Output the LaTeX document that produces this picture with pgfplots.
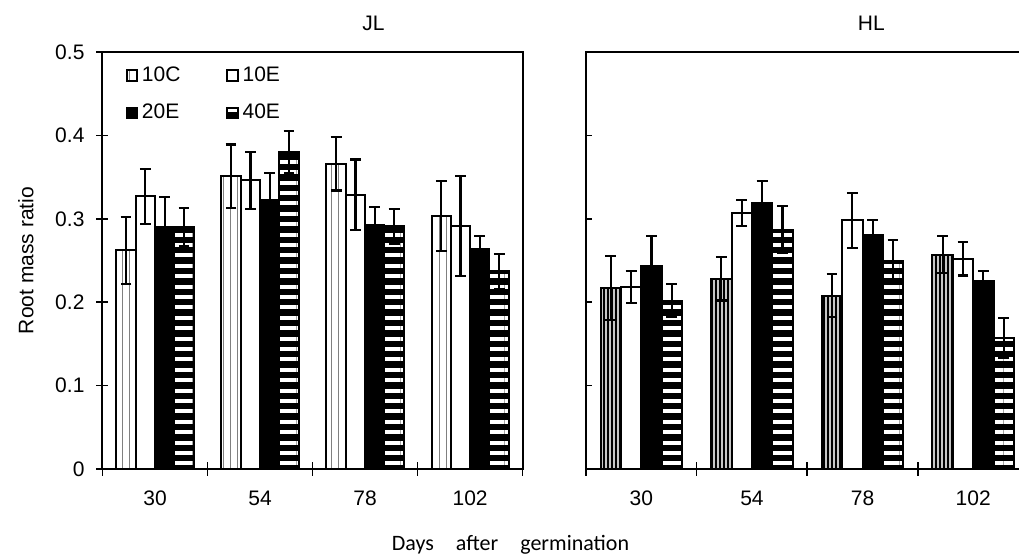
\documentclass[border=0pt]{standalone}
\usepackage{fontspec}
\setmainfont{Liberation Sans}
\newfontfamily\carlito{Carlito}
\usepackage{pgfplots}
\usepackage{pgfplotstable}
\pgfplotsset{compat=1.18}
\usetikzlibrary{patterns.meta}

% x = group (0:30, 1:54, 2:78, 3:102); value and error for each treatment
\pgfplotstableread{
x  c10   c10e  e10   e10e  e20   e20e  e40   e40e
0  0.262 0.040 0.327 0.033 0.290 0.036 0.290 0.023
1  0.351 0.038 0.346 0.034 0.323 0.032 0.380 0.025
2  0.366 0.032 0.329 0.042 0.292 0.022 0.291 0.021
3  0.303 0.042 0.291 0.060 0.264 0.015 0.237 0.021
}\jl
\pgfplotstableread{
x  c10   c10e  e10   e10e  e20   e20e  e40   e40e
0  0.217 0.038 0.218 0.019 0.243 0.036 0.202 0.020
1  0.228 0.026 0.307 0.016 0.319 0.026 0.287 0.028
2  0.208 0.026 0.298 0.033 0.281 0.018 0.249 0.026
3  0.257 0.022 0.252 0.020 0.226 0.011 0.157 0.024
}\hl

\pgfplotsset{
  rmr/.style={
    ybar, bar shift=0pt, bar width=0.184,
    scale only axis, height=208.5pt,
    ymin=0, ymax=0.5, xmin=-0.5, xmax=3.5,
    ytick={0,0.1,...,0.5},
    xtick={0,1,2,3}, xticklabels={30,54,78,102},
    minor xtick={-0.5,0.5,1.5,2.5,3.5},
    major x tick style={draw=none},
    tick pos=left,
    major tick length=6pt, minor tick length=7pt,
    every tick/.style={black, line width=0.8pt},
    axis line style={line width=1pt},
    /pgf/number format/assume math mode=true,
    /pgf/number format/fixed,
    tick label style={font=\fontsize{10.5}{12}\selectfont},
    label style={font=\fontsize{10.5}{12}\selectfont},
    title style={font=\fontsize{10.5}{12}\selectfont, at={(0.645,1)}, anchor=south, yshift=1pt},
    error bars/y dir=both, error bars/y explicit,
    error bars/error bar style={line width=1.1pt, black},
    error bars/error mark options={line width=1.1pt, black, mark size=2.7pt, rotate=90},
    legend image code/.code={\draw[#1, line width=0.9pt] (0pt,-2.6pt) rectangle (5.2pt,2.6pt);},
  },
  sJLc/.style={draw=black, line width=1pt, fill=white,
    postaction={pattern={Lines[angle=90,distance=3.6pt,line width=0.7pt]}, pattern color=gray}},
  sHLc/.style={draw=black, line width=1pt, fill=gray!45,
    postaction={pattern={Lines[angle=90,distance=2pt,line width=0.55pt]}, pattern color=black}},
  sE10/.style={draw=black, line width=1pt, fill=white},
  sE20/.style={draw=black, line width=1pt, fill=black},
  sE40/.style={draw=black, line width=1pt, fill=black,
    postaction={pattern={Lines[angle=0,distance=5.2pt,line width=2pt]}, pattern color=white}},
}

\begin{document}
\begin{tikzpicture}
\begin{axis}[rmr, name=L, width=210.1pt,
  tick align=center,
  title={JL}, ylabel={Root mass ratio},
  ylabel style={xshift=0pt, yshift=4pt},
  yticklabel style={xshift=-2.5pt},
  xticklabel style={yshift=-4.5pt},
  legend style={at={(0.04,0.985)}, anchor=north west, draw=none, fill=none,
    font=\fontsize{10.5}{12}\selectfont, row sep=6pt},
  legend columns=2,
  legend cell align=left,
  /tikz/every even column/.append style={column sep=21pt},
]
\addplot[sJLc] table[x expr=\thisrow{x}-0.276, y=c10, y error=c10e] {\jl};
\addplot[sE10] table[x expr=\thisrow{x}-0.092, y=e10, y error=e10e] {\jl};
\addplot[sE20] table[x expr=\thisrow{x}+0.092, y=e20, y error=e20e] {\jl};
\addplot[sE40] table[x expr=\thisrow{x}+0.276, y=e40, y error=e40e] {\jl};
\legend{10C,10E,20E,40E}
\end{axis}

\coordinate (Rorig) at ([xshift=31.65pt]L.south east);

\begin{axis}[rmr, name=R, width=221.25pt,
  at={(Rorig)}, anchor=south west,
  xtick align=center, ytick align=inside, major tick length=3pt,
  xticklabel style={yshift=-6pt},
  yticklabels={}, title={HL},
]
\addplot[sHLc] table[x expr=\thisrow{x}-0.276, y=c10, y error=c10e] {\hl};
\addplot[sE10] table[x expr=\thisrow{x}-0.092, y=e10, y error=e10e] {\hl};
\addplot[sE20] table[x expr=\thisrow{x}+0.092, y=e20, y error=e20e] {\hl};
\addplot[sE40] table[x expr=\thisrow{x}+0.276, y=e40, y error=e40e] {\hl};
\end{axis}

\node[font=\carlito\fontsize{11}{13}\selectfont] at ([xshift=204pt,yshift=-38pt]L.south west)
  {Days\quad after\quad germination};

\pgfresetboundingbox
\useasboundingbox ([xshift=-51.25pt,yshift=-44pt]L.south west) rectangle ([xshift=458.25pt,yshift=234.5pt]L.south west);
\end{tikzpicture}
\end{document}
